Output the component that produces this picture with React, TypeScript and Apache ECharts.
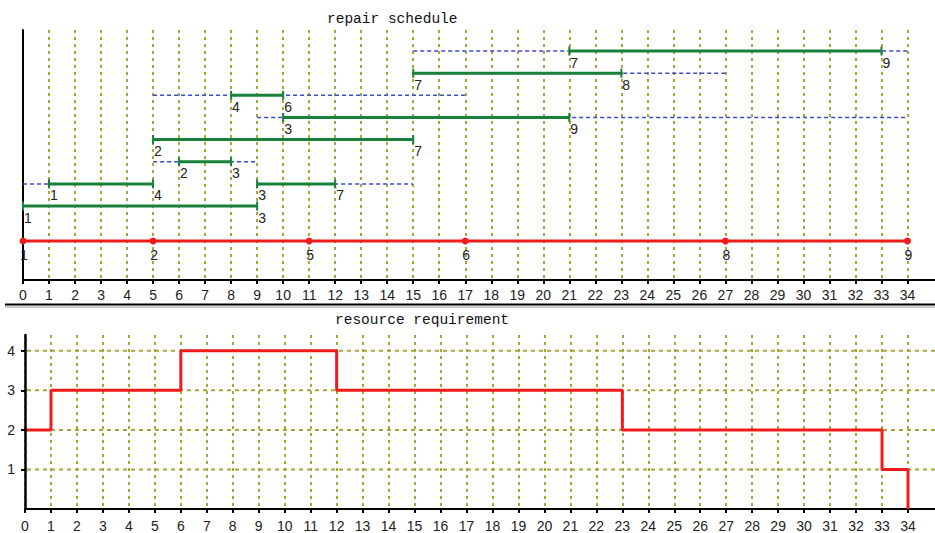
import React, { useEffect, useRef } from "react";
import * as echarts from "echarts";

// ---- data ----
const greenStart = [21, 15, 8, 10, 5, 6, 1, 9, 0];
const greenEnd = [33, 23, 10, 21, 15, 8, 5, 12, 9];
const greenRow = [8, 7, 6, 5, 4, 3, 2, 2, 1];
const greenStartLabel = ["7", "7", "4", "3", "2", "2", "1", "3", "1"];
const greenEndLabel = ["9", "8", "6", "9", "7", "3", "4", "7", "3"];

const windowStart = [15, 15, 5, 9, 5, 0, 9];
const windowEnd = [34, 27, 17, 34, 9, 5, 15];
const windowRow = [8, 7, 6, 5, 3, 2, 2];

const milestoneTimes = [0, 5, 11, 17, 27, 34];
const milestoneLabels = ["1", "2", "5", "6", "8", "9"];
const milestoneRow = -0.58;

const stepTimes = [0, 1, 6, 12, 23, 33, 34];
const stepLevels = [2, 3, 4, 3, 2, 1, 0];

const resourceTicks = [1, 2, 3, 4];

// ---- styles ----
const OLIVE = "#a6a63a";
const GREEN = "#17803a";
const BLUE = "#3a4ad2";
const RED = "#f01c1c";
const AXIS_FONT = '"Liberation Sans Narrow", "Liberation Sans", Arial, sans-serif';
const LABEL_FONT = '"Liberation Sans", Arial, sans-serif';
const TITLE_FONT = '"Liberation Mono", "DejaVu Sans Mono", monospace';

const TOP_YMIN = -2.34;
const TOP_YMAX = 8.95;

export default function App() {
  const ref = useRef<HTMLDivElement>(null);

  useEffect(() => {
    if (!ref.current) return;
    const chart = echarts.init(ref.current, undefined, { renderer: "svg" });

    const xAxisBase = (gridIndex: number, margin: number) => ({
      type: "value",
      gridIndex,
      min: 0,
      max: 34,
      interval: 1,
      axisLine: { show: true, onZero: false, lineStyle: { color: "#000", width: 2 } },
      axisTick: { show: true, length: 4, lineStyle: { color: "#000", width: 2 } },
      axisLabel: { margin, fontSize: 14, fontFamily: AXIS_FONT, color: "#222" },
      splitLine: { show: true, lineStyle: { color: OLIVE, type: [3, 4], width: 2 } },
    });

    const labelBase = {
      show: true,
      formatter: "{b}",
      position: "bottom",
      fontSize: 14,
      fontFamily: LABEL_FONT,
      color: "#222",
    };

    const series: any[] = [];
    windowStart.forEach((s, i) => {
      series.push({
        type: "line",
        xAxisIndex: 0,
        yAxisIndex: 0,
        silent: true,
        symbol: "none",
        z: 2,
        data: [
          [s, windowRow[i]],
          [windowEnd[i], windowRow[i]],
        ],
        lineStyle: { color: BLUE, width: 1.5, type: [4, 3] },
      });
    });
    greenStart.forEach((s, i) => {
      series.push({
        type: "line",
        xAxisIndex: 0,
        yAxisIndex: 0,
        silent: true,
        z: 3,
        symbol: "rect",
        symbolSize: [2, 9],
        data: [
          { name: greenStartLabel[i], value: [s, greenRow[i]] },
          { name: greenEndLabel[i], value: [greenEnd[i], greenRow[i]] },
        ],
        itemStyle: { color: GREEN },
        lineStyle: { color: GREEN, width: 3 },
        label: { ...labelBase, align: "left", distance: 0, offset: [1, 0] },
      });
    });
    series.push({
      type: "line",
      xAxisIndex: 0,
      yAxisIndex: 0,
      silent: true,
      z: 3,
      symbol: "circle",
      symbolSize: 7,
      showAllSymbol: true,
      data: milestoneTimes.map((t, i) => ({ name: milestoneLabels[i], value: [t, milestoneRow] })),
      itemStyle: { color: RED },
      lineStyle: { color: RED, width: 3 },
      label: { ...labelBase, distance: 3, offset: [1, 0] },
    });
    series.push({
      type: "line",
      xAxisIndex: 1,
      yAxisIndex: 1,
      silent: true,
      z: 3,
      step: "end",
      symbol: "none",
      data: stepTimes.map((t, i) => [t, stepLevels[i]]),
      lineStyle: { color: RED, width: 3 },
    });

    const titleStyle = {
      fontFamily: TITLE_FONT,
      fontSize: 14.5,
      fontWeight: "normal",
      color: "#111",
    };

    chart.setOption({
      animation: false,
      backgroundColor: "#fff",
      title: [
        { text: "repair schedule", left: 327, top: 11, padding: 0, textStyle: titleStyle },
        { text: "resource requirement", left: 335, top: 312, padding: 0, textStyle: titleStyle },
      ],
      grid: [
        { left: 23, right: 27.5, top: 30, height: 250 },
        { left: 25, right: 27, top: 335, height: 176 },
      ],
      xAxis: [xAxisBase(0, 8), xAxisBase(1, 10)],
      yAxis: [
        {
          type: "value",
          gridIndex: 0,
          min: TOP_YMIN,
          max: TOP_YMAX,
          axisLine: { show: true, onZero: false, lineStyle: { color: "#000", width: 2 } },
          axisTick: { show: false },
          axisLabel: { show: false },
          splitLine: { show: false },
        },
        {
          type: "value",
          gridIndex: 1,
          min: 0,
          max: 4.4,
          interval: 1,
          z: 5,
          axisLine: { show: true, onZero: false, lineStyle: { color: "#000", width: 2.5 } },
          axisTick: { show: true, length: 4, customValues: resourceTicks, lineStyle: { color: "#000", width: 2 } },
          axisLabel: { margin: 10, customValues: resourceTicks, fontSize: 14, fontFamily: AXIS_FONT, color: "#222" },
          splitLine: { show: false },
        },
      ],
      series,
    });

    // horizontal grid lines of the lower chart, and axis lines running to the right edge
    const W = 935;
    const [x34t, ybt] = chart.convertToPixel({ gridIndex: 0 } as any, [34, TOP_YMIN]) as number[];
    const [x34b, ybb] = chart.convertToPixel({ gridIndex: 1 } as any, [34, 0]) as number[];
    const graphics: any[] = [
      { type: "line", z: 1, shape: { x1: x34t, y1: ybt, x2: W, y2: ybt }, style: { stroke: "#000", lineWidth: 2 } },
      { type: "line", z: 1, shape: { x1: x34b, y1: ybb, x2: W, y2: ybb }, style: { stroke: "#000", lineWidth: 2 } },
      { type: "line", z: 1, shape: { x1: 5, y1: 304.5, x2: W, y2: 304.5 }, style: { stroke: "#000", lineWidth: 2 } },
      { type: "line", z: 1, shape: { x1: 5, y1: 307, x2: W, y2: 307 }, style: { stroke: "#999", lineWidth: 1 } },
    ];
    resourceTicks.forEach((v) => {
      const [px0, py] = chart.convertToPixel({ gridIndex: 1 } as any, [0, v]) as number[];
      graphics.push({
        type: "line",
        z: 1,
        shape: { x1: px0 + 2, y1: py, x2: W, y2: py },
        style: { stroke: OLIVE, lineWidth: 2, lineDash: [4, 4] },
      });
    });
    chart.setOption({ graphic: graphics });

    return () => chart.dispose();
  }, []);

  return (
    <div
      ref={ref}
      style={{ position: "fixed", left: 0, top: 0, width: 935, height: 533, background: "#fff" }}
    />
  );
}
